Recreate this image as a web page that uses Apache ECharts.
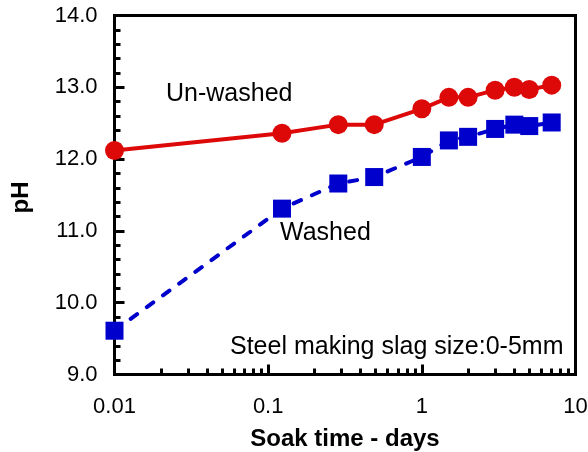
<!DOCTYPE html>
<html>
<head>
<meta charset="utf-8">
<script src="https://cdn.jsdelivr.net/npm/echarts@6/dist/echarts.min.js"></script>
<style>html,body{margin:0;padding:0;background:#fff}#c{width:588px;height:452px}</style>
</head>
<body>
<div id="c"></div>
<script>
var days = [0.01, 0.123, 0.286, 0.49, 1.0, 1.5, 2.0, 3.0, 4.0, 5.0, 7.0];
var unwashed = [12.12, 12.36, 12.48, 12.48, 12.70, 12.86, 12.86, 12.96, 13.00, 12.97, 13.03];
var washed = [9.61, 11.31, 11.66, 11.75, 12.03, 12.26, 12.31, 12.42, 12.48, 12.46, 12.51];
var xMajorTicks = [0.01, 0.1, 1, 10];
var xMinorTicks = [0.02,0.03,0.04,0.05,0.06,0.07,0.08,0.09,0.2,0.3,0.4,0.5,0.6,0.7,0.8,0.9,2,3,4,5,6,7,8,9];
var yMin = 9, yMax = 14, yStep = 1;

function pairs(xs, ys){ return xs.map(function(x,i){ return [x, ys[i]]; }); }
var FONT = 'Liberation Sans, Arial, sans-serif';
var chart = echarts.init(document.getElementById('c'), null, {renderer:'canvas'});
chart.setOption({
  animation: false,
  backgroundColor: '#fff',
  grid: {left: 114.5, top: 15.5, right: 12.5, bottom: 77.5, containLabel: false, outerBoundsMode: 'none',
    show: true, borderColor: '#000', borderWidth: 3, backgroundColor: 'transparent'},
  xAxis: [{
    type: 'log', min: 0.01, max: 10, logBase: 10,
    name: 'Soak time - days', nameLocation: 'middle', nameGap: 53,
    nameTextStyle: {fontFamily: FONT, fontSize: 24, fontWeight: 'bold', color: '#000'},
    axisLine: {show: true, lineStyle: {color: '#000', width: 3}},
    axisTick: {show: true, inside: true, length: 10, lineStyle: {color: '#000', width: 3}, customValues: xMajorTicks},
    axisLabel: {fontFamily: FONT, fontSize: 22, color: '#000', margin: 21, customValues: xMajorTicks,
      formatter: function(v){ return String(Number(Number(v).toPrecision(3))); }},
    splitLine: {show: false}, minorTick: {show: false}, minorSplitLine: {show: false}
  }, {
    type: 'log', min: 0.01, max: 10, logBase: 10, position: 'bottom', gridIndex: 0,
    axisLine: {show: false},
    axisTick: {show: true, inside: true, length: 6, lineStyle: {color: '#000', width: 3}, customValues: xMinorTicks},
    axisLabel: {show: false},
    splitLine: {show: false}
  }],
  yAxis: {
    type: 'value', min: yMin, max: yMax, interval: yStep,
    name: 'pH', nameLocation: 'middle', nameGap: 81,
    nameTextStyle: {fontFamily: FONT, fontSize: 24, fontWeight: 'bold', color: '#000', padding: [0, 5, 0, 0]},
    axisLine: {show: true, lineStyle: {color: '#000', width: 3}},
    axisTick: {show: true, inside: true, length: 10, lineStyle: {color: '#000', width: 3}},
    minorTick: {show: true, splitNumber: 5, length: 6, lineStyle: {color: '#000', width: 3}},
    axisLabel: {fontFamily: FONT, fontSize: 22, color: '#000', margin: 17,
      formatter: function(v){ return v.toFixed(1); }},
    splitLine: {show: false}
  },
  series: [{
    name: 'Un-washed', type: 'line', xAxisIndex: 0, data: pairs(days, unwashed),
    symbol: 'circle', symbolSize: 19,
    itemStyle: {color: '#dd0808'},
    lineStyle: {color: '#dd0808', width: 4, type: 'solid'}
  }, {
    name: 'Washed', type: 'line', xAxisIndex: 0, data: pairs(days, washed),
    symbol: 'rect', symbolSize: 18,
    itemStyle: {color: '#0000cc'},
    lineStyle: {color: '#0000cc', width: 4, type: [8, 12], cap: 'round'}
  }],
  graphic: [
    {type: 'text', left: 166, top: 81.5, style: {text: 'Un-washed', font: '25px ' + FONT, fill: '#000'}},
    {type: 'text', left: 280, top: 220.5, style: {text: 'Washed', font: '25px ' + FONT, fill: '#000'}},
    {type: 'text', left: 230, top: 335, style: {text: 'Steel making slag size:0-5mm', font: '25px ' + FONT, fill: '#000'}}
  ]
});
</script>
</body>
</html>
